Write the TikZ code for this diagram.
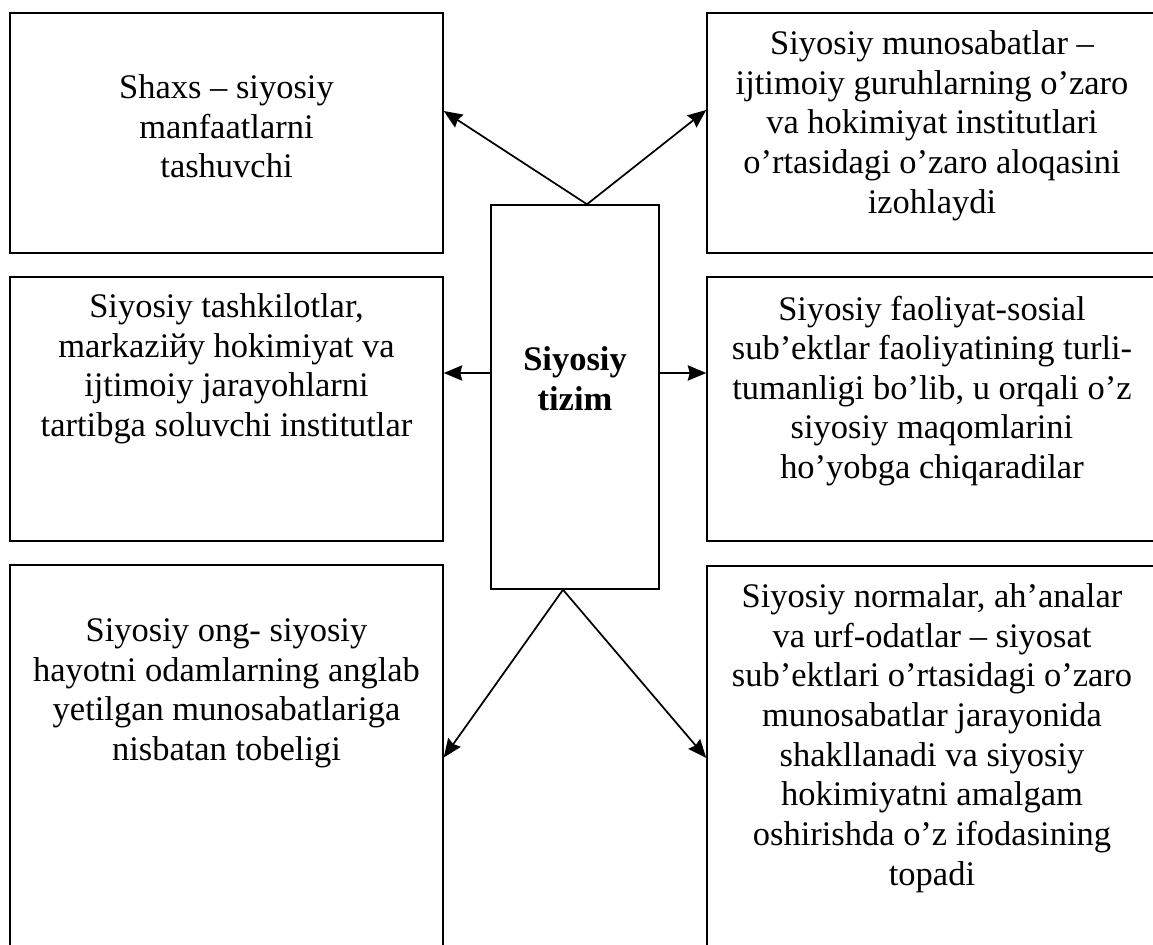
\documentclass[tikz,border=0pt]{standalone}
\usepackage{fontspec}
\setmainfont{Liberation Serif}
\usetikzlibrary{calc,fit,arrows.meta}

\begin{document}
\begin{tikzpicture}[x=0.406pt, y=-0.406pt,
    box/.style={draw, line width=0.6pt, rectangle, inner sep=0pt},
    txt/.style={anchor=north, align=center, inner sep=0pt, font=\fontsize{14}{16.1}\selectfont},
    arr/.style={-{Stealth[length=7.5pt, width=6.2pt, inset=0.8pt]}, line width=0.7pt}]
    \useasboundingbox (0,0) rectangle (1153,945);
    \clip (0,0) rectangle (1153,945);
    % boxes
    \node[box, fit={(10,13) (443,253)}] (shaxs) {};
    \node[box, fit={(707,13) (1157,253)}] (munosabat) {};
    \node[box, fit={(10,277) (443,541)}] (tashkilot) {};
    \node[box, fit={(707,277) (1157,541)}] (faoliyat) {};
    \node[box, fit={(10,565) (443,950)}] (ong) {};
    \node[box, fit={(707,566) (1157,950)}] (norma) {};
    \node[box, fit={(491,205) (659,589)}] (tizim) {};
    % texts
    \node[txt] (shaxs-t) at ($(shaxs.north)+(0,62)$) {Shaxs – siyosiy\\ manfaatlarni\\ tashuvchi};
    \node[txt] (munosabat-t) at ($(munosabat.north)+(0,18)$) {Siyosiy munosabatlar –\\ ijtimoiy guruhlarning o’zaro\\ va hokimiyat institutlari\\ o’rtasidagi o’zaro aloqasini\\ izohlaydi};
    \node[txt] (tashkilot-t) at ($(tashkilot.north)+(0,17)$) {Siyosiy tashkilotlar,\\ markaziйy hokimiyat va\\ ijtimoiy jarayohlarni\\ tartibga soluvchi institutlar};
    \node[txt] (faoliyat-t) at ($(faoliyat.north)+(0,19)$) {Siyosiy faoliyat-sosial\\ sub’ektlar faoliyatining turli-\\ tumanligi bo’lib, u orqali o’z\\ siyosiy maqomlarini\\ ho’yobga chiqaradilar};
    \node[txt] (ong-t) at ($(ong.north)+(0,54)$) {Siyosiy ong- siyosiy\\ hayotni odamlarning anglab\\ yetilgan munosabatlariga\\ nisbatan tobeligi};
    \node[txt] (norma-t) at ($(norma.north)+(0,18)$) {Siyosiy normalar, ah’analar\\ va urf-odatlar – siyosat\\ sub’ektlari o’rtasidagi o’zaro\\ munosabatlar jarayonida\\ shakllanadi va siyosiy\\ hokimiyatni amalgam\\ oshirishda o’z ifodasining\\ topadi};
    \node[txt, font=\fontsize{14}{16.1}\selectfont\bfseries] (tizim-t) at ($(tizim.north)+(0,142)$) {Siyosiy\\ tizim};
    % arrows
    \draw[arr] ($(tizim.north)+(12,0)$) -- ($(shaxs.east)+(0,-22)$);
    \draw[arr] ($(tizim.north)+(12,0)$) -- ($(munosabat.west)+(0,-23)$);
    \draw[arr] ($(tizim.west)+(0,-24)$) -- ($(tashkilot.east)+(0,-36)$);
    \draw[arr] ($(tizim.east)+(0,-24)$) -- ($(faoliyat.west)+(0,-36)$);
    \draw[arr] ($(tizim.south)+(-12,0)$) -- (ong.east);
    \draw[arr] ($(tizim.south)+(-12,0)$) -- (norma.west);
\end{tikzpicture}
\end{document}
